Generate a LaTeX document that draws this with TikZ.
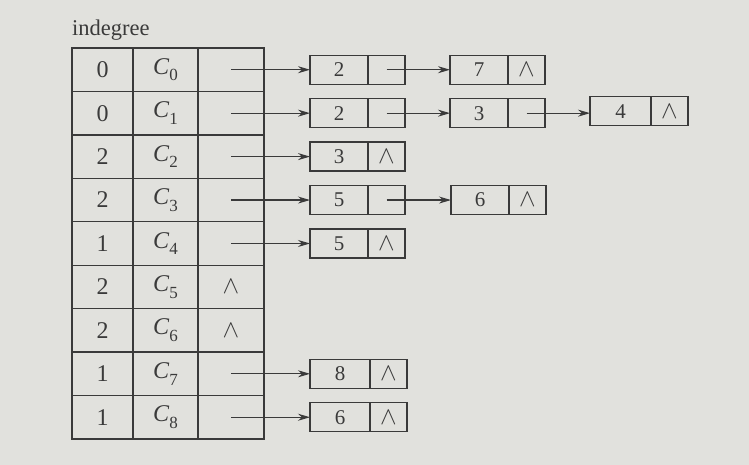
\documentclass[tikz,border=0pt]{standalone}
\usepackage{fontspec}
\setmainfont{Liberation Serif}
\usetikzlibrary{arrows.meta}
\definecolor{bg}{HTML}{E1E1DD}
\definecolor{ink}{HTML}{3A3A3A}
\newcommand{\Cs}[1]{\textit{C}\raisebox{-0.28em}{\fontsize{17}{17}\selectfont #1}}
\newcommand{\nil}{{\fontsize{25}{25}\selectfont$\wedge$}}
\begin{document}
\begin{tikzpicture}[x=1pt,y=-1pt,
  cell/.style={draw=ink, line width=1.4pt, minimum height=43.44pt, inner sep=0pt,
    outer sep=0pt, anchor=center, font=\fontsize{24}{24}\selectfont, text=ink},
  dfield/.style={draw=ink, line width=1.4pt, minimum width=58pt, minimum height=29pt,
    inner sep=0pt, outer sep=0pt, anchor=west, font=\fontsize{21}{21}\selectfont, text=ink},
  pfield/.style={dfield, minimum width=37pt},
  sym/.style={inner sep=0pt, text=ink},
  link/.style={draw=ink, line width=1.1pt, -{Stealth[length=12pt,width=7pt]}}]
\fill[bg] (0,0) rectangle (749,465);
\useasboundingbox (0,0) rectangle (749,465);

\node[anchor=west, inner sep=0pt, text=ink, font=\fontsize{22.5}{22.5}\selectfont] (title) at (72,30) {indegree};

\foreach \i/\deg in {0/0,1/0,2/2,3/2,4/1,5/2,6/2,7/1,8/1}{
  \node[cell, minimum width=61pt] (g\i) at (102.5,{48+43.44*(\i+0.5)}) {\deg};
  \node[cell, minimum width=65pt] (c\i) at (165.5,{48+43.44*(\i+0.5)}) {\Cs{\i}};
  \node[cell, minimum width=66pt] (p\i) at (231,{48+43.44*(\i+0.5)}) {};
}
\node[sym] (n5) at (p5.center) {\nil};
\node[sym] (n6) at (p6.center) {\nil};

% row 0
\node[dfield] (a0) at ([xshift=79pt]p0.center) {2};
\node[pfield] (b0) at (a0.east) {};
\node[dfield] (a0b) at ([xshift=219pt]p0.center) {7};
\node[pfield] (b0b) at (a0b.east) {\nil};
\draw[link] (p0.center) -- (a0.west);
\draw[link] (b0.center) -- (a0b.west);

% row 1
\node[dfield] (a1) at ([xshift=79pt]p1.center) {2};
\node[pfield] (b1) at (a1.east) {};
\node[dfield] (a1b) at ([xshift=219pt]p1.center) {3};
\node[pfield] (b1b) at (a1b.east) {};
\node[dfield, minimum width=61pt] (a1c) at ([xshift=359pt,yshift=2pt]p1.center) {4};
\node[pfield] (b1c) at (a1c.east) {\nil};
\draw[link] (p1.center) -- (a1.west);
\draw[link] (b1.center) -- (a1b.west);
\draw[link] (b1b.center) -- (b1b.center -| a1c.west);

% row 2
\node[dfield] (a2) at ([xshift=79pt]p2.center) {3};
\node[pfield] (b2) at (a2.east) {\nil};
\draw[link] (p2.center) -- (a2.west);

% row 3
\node[dfield] (a3) at ([xshift=79pt]p3.center) {5};
\node[pfield] (b3) at (a3.east) {};
\node[dfield] (a3b) at ([xshift=220pt]p3.center) {6};
\node[pfield] (b3b) at (a3b.east) {\nil};
\draw[link] (p3.center) -- (a3.west);
\draw[link] (b3.center) -- (a3b.west);

% row 4
\node[dfield] (a4) at ([xshift=79pt]p4.center) {5};
\node[pfield] (b4) at (a4.east) {\nil};
\draw[link] (p4.center) -- (a4.west);

% row 7
\node[dfield, minimum width=60pt] (a7) at ([xshift=79pt]p7.center) {8};
\node[pfield] (b7) at (a7.east) {\nil};
\draw[link] (p7.center) -- (a7.west);

% row 8
\node[dfield, minimum width=60pt] (a8) at ([xshift=79pt]p8.center) {6};
\node[pfield] (b8) at (a8.east) {\nil};
\draw[link] (p8.center) -- (a8.west);
\end{tikzpicture}
\end{document}
